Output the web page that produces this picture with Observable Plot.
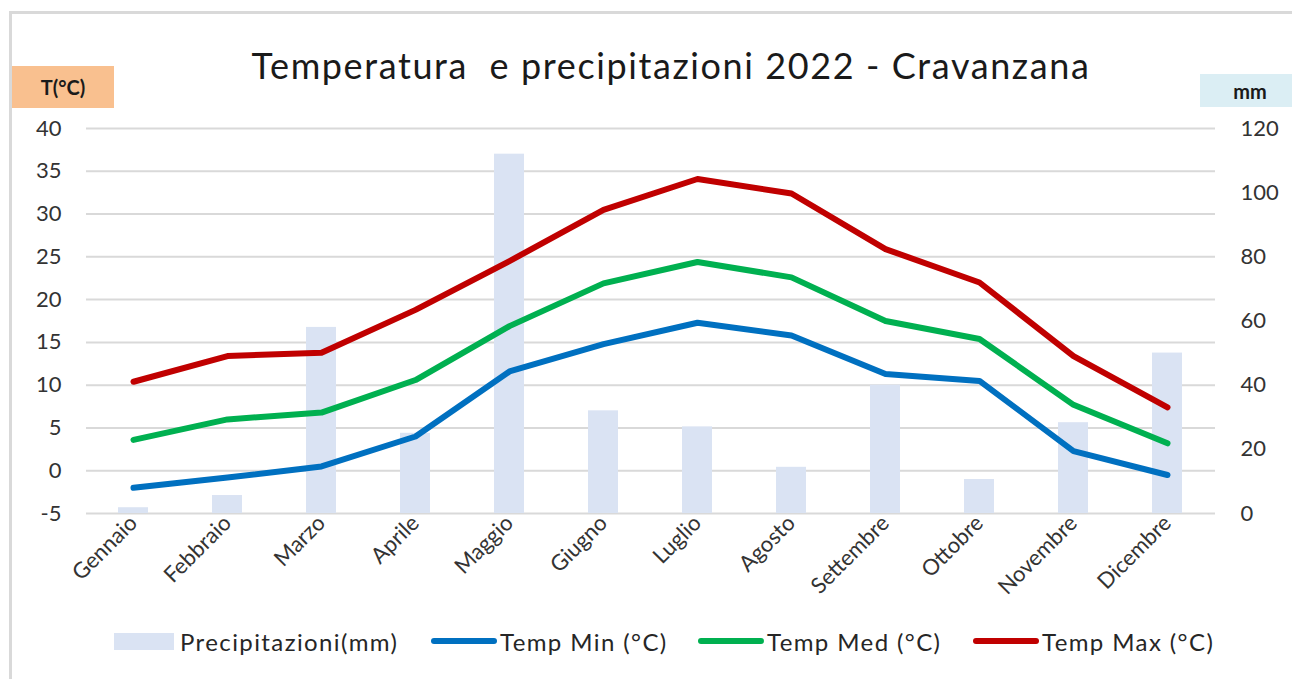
<!DOCTYPE html>
<html>
<head>
<meta charset="utf-8">
<script src="https://cdn.jsdelivr.net/npm/d3@7"></script>
<script src="https://cdn.jsdelivr.net/npm/@observablehq/plot@0.6"></script>
<style>
  html, body { margin: 0; padding: 0; background: #fff; }
  body { width: 1292px; height: 679px; position: relative; overflow: hidden; font-family: Lato, "Open Sans", sans-serif; }
  #frame { position: absolute; left: 9px; top: 11px; width: 1320px; height: 720px; border: 3px solid #d9d9d9; box-sizing: border-box; }
  #title { position: absolute; left: 0; width: 1342px; top: 43px; text-align: center; font-size: 36px; letter-spacing: 1.6px; color: #1a1a1a; white-space: pre; }
  #tbox { position: absolute; left: 12px; top: 66px; width: 102px; height: 42px; background: #f9c08f; font-weight: bold; font-size: 20px; color: #1a1a1a; display: flex; align-items: center; justify-content: center; }
  #mbox { position: absolute; left: 1200px; top: 74px; width: 92px; height: 33px; background: #dbeef4; font-weight: bold; font-size: 20px; color: #1a1a1a; display: flex; align-items: center; justify-content: center; padding-left: 8px; box-sizing: border-box; }
  #chart { position: absolute; left: 0; top: 110px; }
  #legend { position: absolute; top: 626px; left: 0; width: 1292px; height: 30px; font-size: 24px; letter-spacing: 1.4px; color: #262626; }
  .li { position: absolute; top: 0; display: flex; align-items: center; height: 30px; white-space: nowrap; }
  .sw-bar { width: 60px; height: 17px; background: #dae3f3; margin-right: 6px; }
  .sw-line { width: 66px; height: 6px; border-radius: 3px; margin-right: 3px; }
</style>
</head>
<body>
<div id="frame"></div>
<div id="title">Temperatura  e precipitazioni 2022 - Cravanzana</div>
<div id="tbox">T(°C)</div>
<div id="mbox">mm</div>
<div id="chart"></div>
<div id="legend"></div>
<script>
const months = ["Gennaio","Febbraio","Marzo","Aprile","Maggio","Giugno","Luglio","Agosto","Settembre","Ottobre","Novembre","Dicembre"];
const precipitazioni = [1.8, 5.6, 58, 25, 112, 32, 27, 14.4, 40, 10.6, 28.3, 50];
const tempMin = [-2.0, -0.8, 0.5, 4.0, 11.6, 14.8, 17.3, 15.8, 11.3, 10.5, 2.3, -0.5];
const tempMed = [3.6, 6.0, 6.8, 10.6, 16.9, 21.9, 24.4, 22.6, 17.5, 15.4, 7.7, 3.2];
const tempMax = [10.4, 13.4, 13.8, 18.8, 24.5, 30.5, 34.1, 32.4, 25.9, 22.0, 13.4, 7.4];
const tempTicks = [-5, 0, 5, 10, 15, 20, 25, 30, 35, 40];
const mmTicks = [0, 20, 40, 60, 80, 100, 120];

const seriesNames = ["Temp Min (°C)", "Temp Med (°C)", "Temp Max (°C)"];
const seriesColors = ["#0070c0", "#00b050", "#c00000"];

// secondary axis: map mm [0,120] onto temperature domain [-5,40]
const mmToT = mm => -5 + mm * 45 / 120;
const tToMm = t => (t + 5) * 120 / 45;

const bars = months.map((m, i) => ({month: m, mm: precipitazioni[i]}));
const lines = [];
[tempMin, tempMed, tempMax].forEach((arr, s) => {
  arr.forEach((v, i) => lines.push({month: months[i], t: v, serie: seriesNames[s]}));
});

const plot = Plot.plot({
  width: 1292,
  height: 500,
  marginTop: 18,
  marginBottom: 97,
  marginLeft: 86,
  marginRight: 77,
  style: {fontFamily: "Lato, 'Open Sans', sans-serif", fontSize: "20px", color: "#333", background: "transparent"},
  x: {domain: months, paddingInner: 0.68, paddingOuter: 0.34, label: null},
  y: {domain: [-5, 40], label: null},
  color: {domain: seriesNames, range: seriesColors},
  marks: [
    Plot.ruleY(tempTicks, {stroke: "#d9d9d9", strokeWidth: 2}),
    Plot.barY(bars, {x: "month", y1: -5, y2: d => mmToT(d.mm), fill: "#dae3f3"}),
    Plot.line(lines, {x: "month", y: "t", z: "serie", stroke: "serie", strokeWidth: 6, strokeLinecap: "round", strokeLinejoin: "round"}),
    Plot.axisY(tempTicks, {anchor: "left", tickSize: 0, tickPadding: 25, fontSize: 22, label: null, fill: "#333", tickFormat: d => String(d)}),
    Plot.axisY(mmTicks.map(mmToT), {anchor: "right", tickSize: 0, tickPadding: 25, textAnchor: "start", fontSize: 22, label: null, tickFormat: t => String(Math.round(tToMm(t))), fill: "#333"}),
    Plot.axisX({tickSize: 0, tickRotate: -45, tickPadding: 6, fontSize: 22, label: null, fill: "#333"})
  ]
});
document.getElementById("chart").appendChild(plot);

// legend
const legend = document.getElementById("legend");
const items = [
  {label: "Precipitazioni(mm)", type: "bar", left: 114},
  {label: seriesNames[0], type: "line", color: seriesColors[0], left: 431},
  {label: seriesNames[1], type: "line", color: seriesColors[1], left: 698},
  {label: seriesNames[2], type: "line", color: seriesColors[2], left: 973}
];
items.forEach(it => {
  const d = document.createElement("div");
  d.className = "li";
  d.style.left = it.left + "px";
  const sw = document.createElement("span");
  if (it.type === "bar") sw.className = "sw-bar";
  else { sw.className = "sw-line"; sw.style.background = it.color; }
  d.appendChild(sw);
  const t = document.createElement("span");
  t.textContent = it.label;
  d.appendChild(t);
  legend.appendChild(d);
});
</script>
</body>
</html>
